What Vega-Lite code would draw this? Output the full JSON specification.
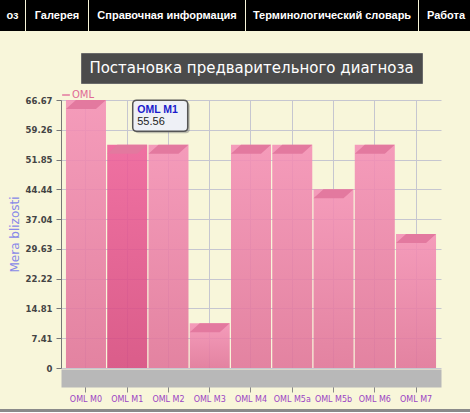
{
  "$schema": "https://vega.github.io/schema/vega-lite/v6.json",
  "background": "#f8f6da",
  "padding": 0,
  "spacing": 6,
  "config": {"view": {"stroke": null}},
  "resolve": {"legend": {"color": "independent"}, "scale": {"color": "independent"}},
  "vconcat": [
    {
      "spacing": 1,
      "hconcat": [
        {"width": 25, "height": 31, "view": {"fill": "#000000", "stroke": null}, "data": {"values": [{"item": "оз"}]}, "mark": {"type": "text", "color": "#ffffff", "font": "Liberation Sans", "fontWeight": "bold", "fontSize": 11}, "encoding": {"text": {"field": "item"}}},
        {"width": 62, "height": 31, "view": {"fill": "#000000", "stroke": null}, "data": {"values": [{"item": "Галерея"}]}, "mark": {"type": "text", "color": "#ffffff", "font": "Liberation Sans", "fontWeight": "bold", "fontSize": 11}, "encoding": {"text": {"field": "item"}}},
        {"width": 156, "height": 31, "view": {"fill": "#000000", "stroke": null}, "data": {"values": [{"item": "Справочная информация"}]}, "mark": {"type": "text", "color": "#ffffff", "font": "Liberation Sans", "fontWeight": "bold", "fontSize": 11}, "encoding": {"text": {"field": "item"}}},
        {"width": 172, "height": 31, "view": {"fill": "#000000", "stroke": null}, "data": {"values": [{"item": "Терминологический словарь"}]}, "mark": {"type": "text", "color": "#ffffff", "font": "Liberation Sans", "fontWeight": "bold", "fontSize": 11}, "encoding": {"text": {"field": "item"}}},
        {"width": 54, "height": 31, "view": {"fill": "#000000", "stroke": null}, "data": {"values": [{"item": "Работа"}]}, "mark": {"type": "text", "color": "#ffffff", "font": "Liberation Sans", "fontWeight": "bold", "fontSize": 11}, "encoding": {"text": {"field": "item"}}}
      ]
    },
    {"width": 10, "height": 9, "data": {"values": []}, "mark": "point"},
    {
      "spacing": 0,
      "hconcat": [
        {"width": 80, "height": 30, "data": {"values": []}, "mark": "point"},
        {"width": 341, "height": 30, "view": {"fill": "#4b4b4b", "stroke": "#6a6a6a"}, "data": {"values": [{"t": "Постановка предварительного диагноза"}]}, "mark": {"type": "text", "color": "#ffffff", "font": "DejaVu Sans", "fontSize": 15}, "encoding": {"text": {"field": "t"}}}
      ]
    },
    {
      "spacing": 0,
      "resolve": {"legend": {"color": "independent"}, "scale": {"color": "independent"}},
      "hconcat": [
        {"width": 8, "height": 10, "data": {"values": []}, "mark": "point"},
        {
          "width": 380,
          "height": 268,
          "data": {"values": [
            {"cat": "OML M0", "value": 66.67, "series": "OML"},
            {"cat": "OML M1", "value": 55.56, "series": "OML"},
            {"cat": "OML M2", "value": 55.56, "series": "OML"},
            {"cat": "OML M3", "value": 11.11, "series": "OML"},
            {"cat": "OML M4", "value": 55.56, "series": "OML"},
            {"cat": "OML M5a", "value": 55.56, "series": "OML"},
            {"cat": "OML M5b", "value": 44.44, "series": "OML"},
            {"cat": "OML M6", "value": 55.56, "series": "OML"},
            {"cat": "OML M7", "value": 33.33, "series": "OML"}
          ]},
          "encoding": {
            "x": {"field": "cat", "type": "nominal", "sort": null,
              "scale": {"paddingInner": 0.03, "paddingOuter": 0.12},
              "axis": {"title": null, "labelAngle": 0, "labelFont": "DejaVu Sans", "labelFontSize": 8, "labelColor": "#9b44c4",
                "domainColor": "#b8b8b8", "domainWidth": 18, "offset": 10, "tickColor": "#888888", "tickSize": 14, "labelPadding": 3,
                "grid": true, "gridColor": "#c6c6d0"}},
            "y": {"field": "value", "type": "quantitative",
              "scale": {"domain": [0, 66.67], "nice": false, "zero": true},
              "axis": {"values": [0, 7.41, 14.81, 22.22, 29.63, 37.04, 44.44, 51.85, 59.26, 66.67], "format": ".2~f",
                "title": "Mera blizosti", "titleColor": "#8888e8", "titleFont": "DejaVu Sans", "titleFontSize": 12, "titleFontWeight": "normal", "titlePadding": 4,
                "labelFont": "DejaVu Sans", "labelFontSize": 8.5, "labelFontWeight": "bold", "labelColor": "#444444", "labelPadding": 4,
                "tickColor": "#777777", "tickSize": 5, "domainColor": "#777777", "gridColor": "#c6c6d0"}}
          },
          "layer": [
            {"mark": {"type": "bar", "fillOpacity": 0.88},
             "encoding": {"color": {"condition": {"test": "datum.cat === 'OML M1'", "value": {"gradient": "linear", "x1": 0, "y1": 0, "x2": 0, "y2": 1, "stops": [{"offset": 0, "color": "#ee5e9a"}, {"offset": 1, "color": "#d6487f"}]}},
               "value": {"gradient": "linear", "x1": 0, "y1": 0, "x2": 0, "y2": 1, "stops": [{"offset": 0, "color": "#f48fb6"}, {"offset": 1, "color": "#e07399"}]}}}},
            {"mark": {"type": "point", "shape": "M-1,0.225L-0.5,-0.225L1,-0.225L0.5,0.225Z", "size": 1600, "filled": true, "opacity": 1, "yOffset": 4.5},
             "encoding": {"color": {"field": "series", "type": "nominal", "scale": {"range": ["#e3799f"]},
               "legend": {"title": null, "orient": "top", "symbolType": "stroke", "symbolStrokeColor": "#e3799f", "symbolStrokeWidth": 1.5, "symbolSize": 60, "labelColor": "#e06a95", "labelFont": "DejaVu Sans", "labelFontSize": 10, "offset": 0, "padding": 0, "labelOffset": 1}}}},
            {"transform": [{"filter": "datum.cat === 'OML M1'"}],
             "mark": {"type": "point", "shape": "M-0.855,-0.5636L0.855,-0.5636Q1,-0.5636 1,-0.4186L1,0.4186Q1,0.5636 0.855,0.5636L-0.855,0.5636Q-1,0.5636 -1,0.4186L-1,-0.4186Q-1,-0.5636 -0.855,-0.5636Z", "size": 3025, "filled": true, "fill": "#777777", "opacity": 0.45, "xOffset": 35, "yOffset": -27}},
            {"transform": [{"filter": "datum.cat === 'OML M1'"}],
             "mark": {"type": "point", "shape": "M-0.855,-0.5636L0.855,-0.5636Q1,-0.5636 1,-0.4186L1,0.4186Q1,0.5636 0.855,0.5636L-0.855,0.5636Q-1,0.5636 -1,0.4186L-1,-0.4186Q-1,-0.5636 -0.855,-0.5636Z", "size": 3025, "filled": true, "fill": "#eef0f6", "stroke": "#555555", "strokeWidth": 1.5, "opacity": 1, "fillOpacity": 1, "strokeOpacity": 1, "xOffset": 33, "yOffset": -29}},
            {"transform": [{"filter": "datum.cat === 'OML M1'"}],
             "mark": {"type": "text", "align": "left", "baseline": "middle", "font": "Liberation Sans", "fontWeight": "bold", "fontSize": 10.5, "color": "#1a1acc", "xOffset": 10, "yOffset": -35},
             "encoding": {"text": {"field": "cat"}}},
            {"transform": [{"filter": "datum.cat === 'OML M1'"}],
             "mark": {"type": "text", "align": "left", "baseline": "middle", "font": "Liberation Sans", "fontSize": 11, "color": "#222222", "xOffset": 10, "yOffset": -23},
             "encoding": {"text": {"field": "value", "format": ".2f"}}}
          ]
        }
      ]
    },
    {"width": 470, "height": 3, "view": {"fill": "#8a8a8a", "stroke": null}, "data": {"values": []}, "mark": "point"}
  ]
}
